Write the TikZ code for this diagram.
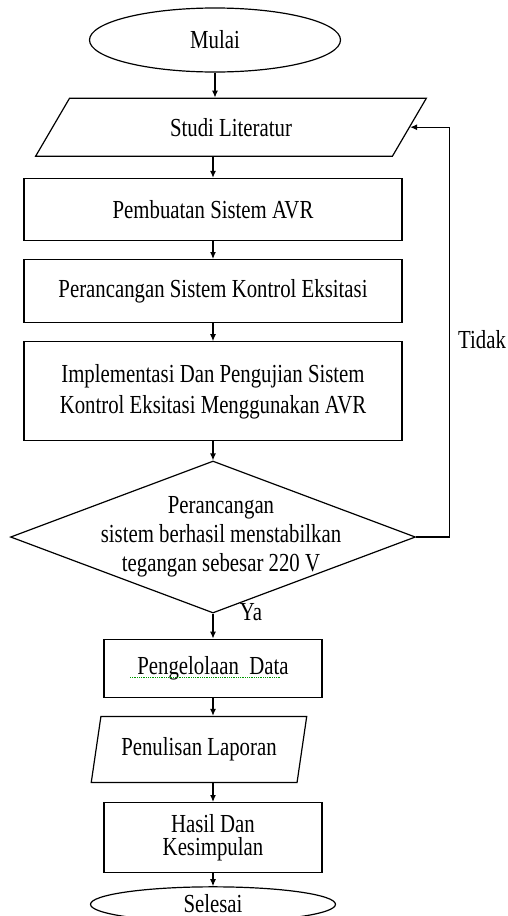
\documentclass[tikz,border=0pt]{standalone}
\usepackage{fontspec}
\setmainfont{Liberation Serif}[FakeStretch=0.8]
\usetikzlibrary{positioning,shapes.geometric,arrows.meta}

\begin{document}
\begin{tikzpicture}[x=1pt,y=-1pt,
    font=\fontsize{26}{31}\selectfont,
    line width=1.2pt,
    every node/.style={inner sep=0pt},
    terminal/.style={draw, ellipse},
    proses/.style={draw, rectangle, minimum width=378pt},
    datain/.style={draw, trapezium, trapezium left angle=55, trapezium right angle=125, trapezium stretches=true},
    cabang/.style={draw, diamond, minimum width=405pt, minimum height=152pt},
    panah/.style={-{Latex[length=7pt,width=6pt]}},
    node distance=18pt
  ]
    \useasboundingbox (0,0) rectangle (507,916);

    \node[terminal, minimum width=251pt, minimum height=64pt] (mulai) at (215,40) {Mulai};
    \node[datain, minimum width=391pt, minimum height=58pt, below=25pt of mulai, xshift=16pt] (studi) {Studi Literatur};
    \node[proses, minimum height=62pt, below=21pt of studi, xshift=-18pt] (buat) {Pembuatan Sistem AVR};
    \node[proses, minimum height=63pt, below=of buat] (rancang) {Perancangan Sistem Kontrol Eksitasi};
    \node[proses, minimum height=99pt, align=center, below=of rancang] (uji) {Implementasi Dan Pengujian Sistem\\Kontrol Eksitasi Menggunakan AVR};
    \node[cabang, below=19pt of uji] (cek) {};
    \node[align=center, font=\fontsize{26}{29}\selectfont, xshift=8pt] (cektxt) at (cek.center) {Perancangan\\sistem berhasil menstabilkan\\tegangan sebesar 220 V};
    \node[proses, minimum width=218pt, minimum height=58pt, below=25pt of cek] (olah) {Pengelolaan\ \ Data};
    \node[datain, trapezium left angle=72, trapezium right angle=108, minimum width=216pt, minimum height=66pt, below=of olah, xshift=-14pt] (tulis) {Penulisan Laporan};
    \node[proses, minimum width=218pt, minimum height=70pt, align=center, font=\fontsize{26}{23}\selectfont, below=19pt of tulis, xshift=14pt] (hasil) {Hasil Dan\\Kesimpulan};
    \node[terminal, minimum width=245pt, minimum height=35pt, below=13pt of hasil] (selesai) {\raisebox{2pt}{Selesai}};

    \node (tidak) at (482,340) {Tidak};
    \node (ya) at (251,612) {Ya};

    % garis alur
    \draw[panah] (mulai) -- (studi.north -| mulai);
    \draw[panah] (buat.north |- studi.south) -- (buat);
    \draw[panah] (buat) -- (rancang);
    \draw[panah] (rancang) -- (uji);
    \draw[panah] (uji) -- (cek);
    \draw[panah] (cek) -- (olah);
    \draw[panah] (olah.south) -- (olah.south |- tulis.north);
    \draw[panah] (hasil.north |- tulis.south) -- (hasil);
    \draw[panah] (hasil) -- (selesai);
    \draw[panah] (cek.east) -- ++(33pt,0) |- (studi.east);

    \draw[green!60!black, densely dotted, line width=0.8pt] (130,677) -- (281,677);
\end{tikzpicture}
\end{document}
